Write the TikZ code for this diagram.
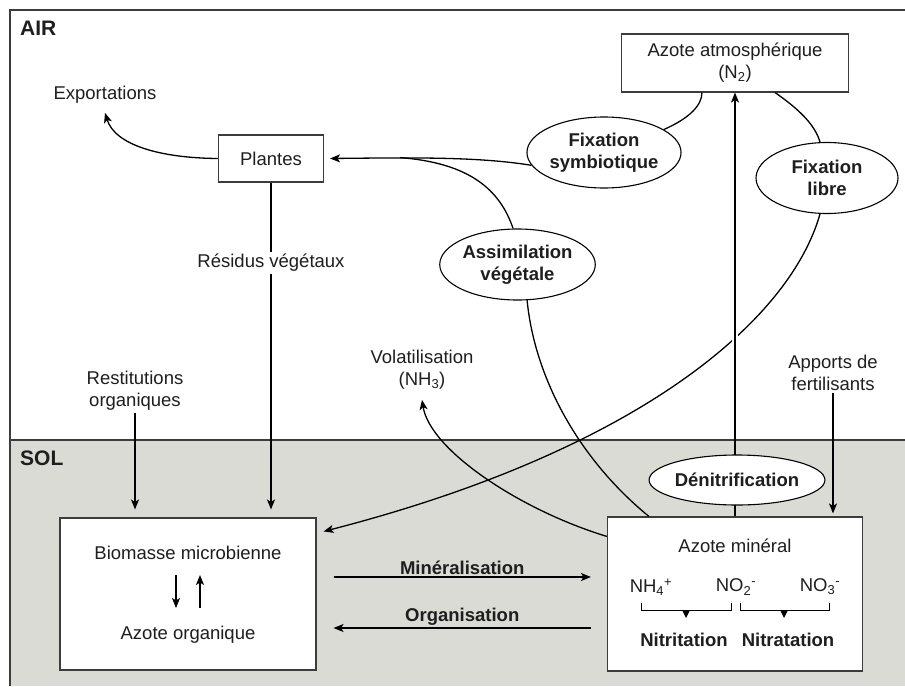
\documentclass[tikz,border=0pt]{standalone}
\usepackage{fontspec}
\setmainfont{Liberation Sans}
\usetikzlibrary{arrows.meta,shapes.geometric}
\definecolor{solgrey}{RGB}{219,219,214}
\definecolor{boxline}{RGB}{60,60,60}
\definecolor{ink}{RGB}{30,30,30}
\begin{document}
\begin{tikzpicture}[x=1pt,y=-1pt,
  txt/.style={font=\fontsize{18.5}{22}\selectfont, align=center, inner sep=2pt, text=ink},
  btxt/.style={font=\fontsize{18.5}{22}\selectfont\bfseries, align=center, inner sep=2pt, text=ink},
  lab/.style={font=\fontsize{21}{24}\selectfont\bfseries, inner sep=2pt, text=ink},
  boxn/.style={draw=boxline, line width=1.1pt, fill=white, font=\fontsize{18.5}{22}\selectfont, align=center, inner sep=0pt, text=ink},
  ell/.style={ellipse, draw, fill=white, line width=1.1pt, font=\fontsize{18.5}{22}\selectfont\bfseries, align=center, minimum width=142, minimum height=71, inner sep=0pt, text=ink},
  arr/.style={line width=1.3pt, -{Stealth[length=10pt,width=8pt,inset=2.5pt]}},
  ln/.style={line width=1.3pt}]
\useasboundingbox (0,0) rectangle (905,686);
% background and frame
\fill[solgrey] (10,440) rectangle (905,686);
\draw[boxline, line width=1.1pt] (905,10) -- (10,10) -- (10,686);
\draw[boxline, line width=1.1pt] (10,440) -- (905,440);
\node[lab, anchor=west] (air) at (18,28) {AIR};
\node[lab, anchor=west] (sol) at (18,458) {SOL};

% boxes
\node[boxn, minimum width=105, minimum height=47] (pl) at (271,158.5) {Plantes};
\node[boxn, minimum width=227, minimum height=58] (atm) at (735,63) {Azote atmosphérique\\(N\textsubscript{2})};
\node[boxn, minimum width=256, minimum height=152] (bio) at (188,594) {};
\node[boxn, minimum width=255, minimum height=154] (min) at (735,594) {};

% free texts
\node[txt] (exp) at (105,95) {Exportations};
\node[txt] (rest) at (135,391) {Restitutions\\organiques};
\node[txt] (vol) at (422,370) {Volatilisation\\(NH\textsubscript{3})};
\node[txt] (app) at (833,373) {Apports de\\fertilisants};

% texts inside boxes
\node[txt] (bm) at (188,553) {Biomasse microbienne};
\node[txt] (ao) at (188,635) {Azote organique};
\node[txt] (am) at (735,546) {Azote minéral};
\node[txt] (nh4) at (651,587) {NH\textsubscript{4}\textsuperscript{+}};
\node[txt] (no2) at (736,587) {NO\textsubscript{2}\textsuperscript{-}};
\node[txt] (no3) at (820,587) {NO\textsubscript{3}\textsuperscript{-}};
\node[btxt] (nit) at (684,640) {Nitritation};
\node[btxt] (nat) at (788,640) {Nitratation};

% ellipses
\node[ell] (fs) at (604,152.5) {Fixation\\symbiotique};
\node[ell] (as) at (517.5,264.5) {Assimilation\\végétale};
\node[ell] (fl) at (827,178) {Fixation\\libre};

% connectors in AIR
\draw[arr] (pl.west) .. controls (160,158) and (115,145) .. ([yshift=-7pt]exp.south);
\draw[arr] (fs.190) .. controls (480,157) and (420,157.5) .. ([xshift=6pt]pl.east);
\coordinate (join) at (400,157.6);
\draw[ln] (as.97) .. controls (500,190) and (470,163) .. (join);
\draw[ln] (fs.21) .. controls (690,118) and (702,105) .. ([xshift=81pt]atm.south west);
\draw[ln] ([xshift=-74pt]atm.south east) .. controls (800,110) and (815,125) .. (fl.101);

% residus, restitutions, apports
\draw[arr, shorten >=8pt] (pl.south) -- (pl.south |- bio.north);
\node[txt, fill=white] (rv) at (271,263) {Résidus végétaux};
\draw[arr, shorten >=8pt] (rest.south) -- (rest.south |- bio.north);
\draw[arr, shorten >=3pt] (app.south) -- (app.south |- min.north);

% long curves
\draw[ln] (as.-75) .. controls (535,380) and (580,460) .. ([xshift=42pt]min.north west);
\draw[arr] (fl.259) .. controls (790,320) and (640,450) .. ([xshift=7pt,yshift=-14pt]bio.north east);
\draw[arr] ([yshift=-20pt]min.north west) .. controls (520,510) and (430,450) .. ([yshift=-8pt]vol.south);

% denitrification vertical line with gap in crossing curve
\begin{scope}
  \clip (726,330) rectangle (744,356);
  \draw[white, line width=6pt] (min.north) -- (atm.south);
\end{scope}
\draw[arr] (min.north) -- (atm.south);
\node[ell, minimum width=145, minimum height=50] (dn) at (737,480) {Dénitrification};

% mineralisation / organisation
\draw[arr] ([xshift=17pt,yshift=17pt]bio.east) -- node[btxt, above] (minl) {Minéralisation} ([xshift=-16pt,yshift=17pt]min.west);
\draw[arr] ([xshift=-16pt,yshift=-34pt]min.west) -- node[btxt, above] (orgl) {Organisation} ([xshift=17pt,yshift=-34pt]bio.east);

% arrows inside biomasse box
\coordinate (d1) at (176,575);
\coordinate (d2) at (176,608);
\coordinate (u1) at (200,608);
\coordinate (u2) at (200,575);
\draw[arr] (d1) -- (d2);
\draw[arr] (u1) -- (u2);

% brackets
\draw[line width=1pt] (641,603) -- (641,610) -- (731,610) -- (731,603);
\draw[line width=1pt] (740,603) -- (740,610) -- (829,610) -- (829,603);
\fill (682,610) -- (690,610) -- (686,618) -- cycle;
\fill (780,610) -- (788,610) -- (784,618) -- cycle;
\end{tikzpicture}
\end{document}
